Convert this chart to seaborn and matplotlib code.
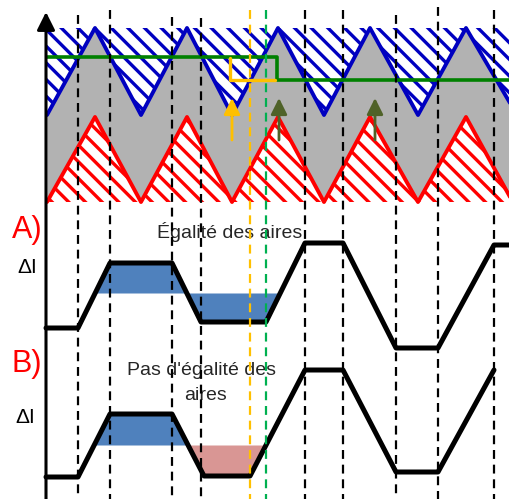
import numpy as np
import matplotlib
matplotlib.use("Agg")
import matplotlib.pyplot as plt
import seaborn as sns

# ----- values (pixel frame, y grows downwards) -----
wave_x = [47, 95, 141, 187, 232, 278, 324, 370, 418, 466, 510]
blue_y = [115, 28, 115, 28, 115, 28, 115, 28, 115, 28, 103]
red_y  = [202, 117, 202, 117, 202, 117, 202, 117, 202, 117, 197]
HATCH_TOP, HATCH_BOTTOM = 28, 202

green_x  = [47, 277, 277, 510]
green_y  = [57, 57, 80, 80]
orange_x = [230, 230, 275]
orange_y = [58, 80, 80]

arrow_x      = [232, 279, 375]
arrow_colors = ["#ffc000", "#4f6228", "#4f6228"]
ARROW_TAIL, ARROW_TIP = 140, 98

dash_x   = [78, 110, 172, 201, 305, 343, 396, 438, 494]
dash_top = [15, 10, 17, 18, 10, 10, 15, 7, 10]
ORANGE_DASH_X, GREEN_DASH_X = 250, 266

curve_a_x = [46, 78, 110, 172, 201, 266, 305, 343, 396, 438, 494, 510]
curve_a_y = [328, 328, 263, 263, 322, 322, 243, 243, 348, 348, 245, 245]
AXIS_A_Y = 293

curve_b_x = [46, 78, 110, 172, 204, 250, 305, 343, 396, 438, 494]
curve_b_y = [477, 477, 414, 414, 476, 476, 370, 370, 472, 472, 370]
AXIS_B_Y = 445

W, H = 510, 499

sns.set_style("white")
plt.rcParams["font.family"] = ["Liberation Sans", "DejaVu Sans"]
plt.rcParams["hatch.linewidth"] = 2.4

fig = plt.figure(figsize=(W / 100, H / 100), dpi=100)
ax = fig.add_axes([0, 0, 1, 1])

# ---- top panel: hysteresis band ----
ax.fill_between(wave_x, blue_y, red_y, color="#b2b2b2", lw=0, zorder=1)
ax.fill_between(wave_x, HATCH_TOP, blue_y, facecolor="white",
                edgecolor="#0000c0", hatch="\\\\", lw=0, zorder=1.5)
ax.fill_between(wave_x, red_y, HATCH_BOTTOM, facecolor="white",
                edgecolor="#ff0000", hatch="\\\\", lw=0, zorder=1.5)
sns.lineplot(x=wave_x, y=blue_y, sort=False, estimator=None,
             color="#0000c0", lw=2.8, ax=ax, zorder=2)
sns.lineplot(x=wave_x, y=red_y, sort=False, estimator=None,
             color="#ff0000", lw=2.8, ax=ax, zorder=2)
sns.lineplot(x=green_x, y=green_y, sort=False, estimator=None,
             color="#008000", lw=2.6, ax=ax, zorder=3)
sns.lineplot(x=orange_x, y=orange_y, sort=False, estimator=None,
             color="#ffc000", lw=2.4, ax=ax, zorder=3)

for xa, ca in zip(arrow_x, arrow_colors):
    ax.annotate("", xy=(xa, ARROW_TIP), xytext=(xa, ARROW_TAIL),
                arrowprops=dict(arrowstyle="-|>,head_length=0.7,head_width=0.35",
                                color=ca, lw=2, mutation_scale=14,
                                shrinkA=0, shrinkB=0), zorder=4)

# ---- lower panels: current ripple ----
xs = np.linspace(46, 510, 2000)
ya = np.interp(xs, curve_a_x, curve_a_y)
yb = np.interp(xs, curve_b_x, curve_b_y)
cross_a = xs[np.nonzero(np.diff(np.sign(ya - AXIS_A_Y)))[0]]
cross_b = xs[np.nonzero(np.diff(np.sign(yb - AXIS_B_Y)))[0]]

ax.fill_between(xs, ya, AXIS_A_Y, where=(xs >= cross_a[0]) & (xs <= cross_a[2]),
                color="#4f81bd", lw=0, zorder=1)
ax.fill_between(xs, yb, AXIS_B_Y, where=(xs >= cross_b[0]) & (xs <= cross_b[1]),
                color="#4f81bd", lw=0, zorder=1)
ax.fill_between(xs, yb, AXIS_B_Y, where=(xs >= cross_b[1]) & (xs <= cross_b[2]),
                color="#d99694", lw=0, zorder=1)

axis_arrow = dict(arrowstyle="-|>,head_length=0.6,head_width=0.3",
                  color="black", lw=2.2, mutation_scale=14,
                  shrinkA=0, shrinkB=0)
for ay in (AXIS_A_Y, AXIS_B_Y):
    ax.annotate("", xy=(511, ay), xytext=(46, ay), arrowprops=axis_arrow, zorder=2)
ax.annotate("", xy=(46, 12), xytext=(46, H + 2),
            arrowprops=dict(axis_arrow, mutation_scale=18), zorder=6)

sns.lineplot(x=curve_a_x, y=curve_a_y, sort=False, estimator=None,
             color="black", lw=3.6, ax=ax, zorder=3)
sns.lineplot(x=curve_b_x, y=curve_b_y, sort=False, estimator=None,
             color="black", lw=3.6, ax=ax, zorder=3)

# ---- vertical guides ----
dash = (0, (4, 2.6))
for xd, yt in zip(dash_x, dash_top):
    ax.plot([xd, xd], [yt, H], color="black", lw=1.6, ls=dash, zorder=5)
ax.plot([ORANGE_DASH_X] * 2, [10, H], color="#ffc000", lw=1.6, ls=dash, zorder=5)
ax.plot([GREEN_DASH_X] * 2, [10, H], color="#00b050", lw=1.6, ls=dash, zorder=5)

# ---- labels ----
ax.text(12, 238, "A)", color="#ff0000", fontsize=22, va="baseline", zorder=4)
ax.text(12, 372, "B)", color="#ff0000", fontsize=22, va="baseline", zorder=4)
ax.text(17, 273, "ΔI", color="black", fontsize=15, va="baseline", zorder=4)
ax.text(15, 423, "ΔI", color="black", fontsize=15, va="baseline", zorder=4)
ax.text(157, 238, "Égalité des aires", color="#262626", fontsize=14,
        va="baseline", zorder=4)
ax.text(127, 375, "Pas d'égalité des", color="#262626", fontsize=14,
        va="baseline", zorder=4)
ax.text(184, 400, "aires", color="#262626", fontsize=14,
        va="baseline", zorder=4)

ax.set_xlim(0, W)
ax.set_ylim(H, 0)
ax.axis("off")
fig.savefig("out.png", dpi=100, facecolor="white")
